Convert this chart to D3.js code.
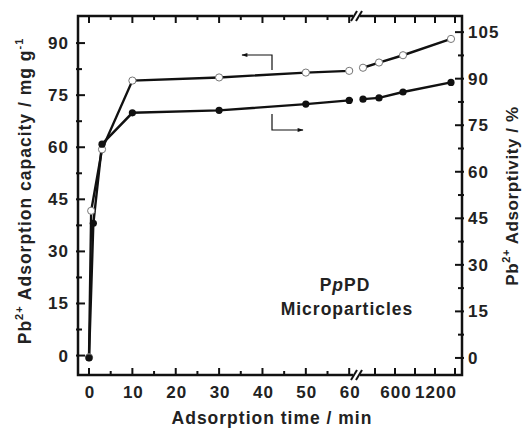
<!DOCTYPE html>
<html>
<head>
<meta charset="utf-8">
<script src="https://cdn.jsdelivr.net/npm/d3@7"></script>
<style>
  body { margin: 0; background: #fff; }
  text { font-family: "Liberation Sans", Arial, sans-serif; font-weight: bold; fill: #222; }
</style>
</head>
<body>
<div id="container"></div>
<script>
/* DATA */
const capTimes = [0, 0.5, 3, 10, 30, 50, 60, 120, 360, 720, 1440];
const capacity = [-0.5, 41.7, 59.4, 79.2, 80.1, 81.5, 82.0, 82.9, 84.4, 86.5, 91.2];   // mg/g, left axis
const advTimes = [0, 1, 3, 10, 30, 50, 60, 120, 360, 720, 1440];
const adsorptivity = [0, 43.4, 68.9, 79.0, 79.8, 81.8, 83.0, 83.4, 83.8, 85.7, 88.8]; // %, right axis

const xTicks1 = [0, 10, 20, 30, 40, 50, 60];
const xMinor1 = [5, 15, 25, 35, 45, 55];
const xTicks2 = [300, 600, 900, 1200, 1500];
const xLabels2 = [600, 1200];
const yLeftTicks = [0, 15, 30, 45, 60, 75, 90];
const yRightTicks = [0, 15, 30, 45, 60, 75, 90, 105];

/* CONSTANTS AND GLOBALS */
const width = 523, height = 428,
  margin = { top: 16, bottom: 53, left: 78, right: 61 };
const plotL = margin.left, plotR = width - margin.right,
  plotT = margin.top, plotB = height - margin.bottom;
const breakX = 357;

const svg = d3.select("#container").append("svg")
  .attr("width", width).attr("height", height);

// broken x axis: two linear pieces
const x1 = d3.scaleLinear().domain([-2.54, 61.8]).range([plotL, breakX]);
const x2 = d3.scaleLinear().domain([30, 1605]).range([breakX, plotR]);
const x = t => t <= 61.8 ? x1(t) : x2(t);

const yL = d3.scaleLinear().domain([-5.6, 97.8]).range([plotB, plotT]);
const yR = d3.scaleLinear().domain([-5.5, 110.2]).range([plotB, plotT]);

// lines
const line = d3.line().x(d => x(d[0])).y(d => d[1]);
const capPts = capTimes.map((t, i) => [t, yL(capacity[i])]);
const advPts = advTimes.map((t, i) => [t, yR(adsorptivity[i])]);

svg.append("path").attr("d", line(capPts))
  .attr("fill", "none").attr("stroke", "#111").attr("stroke-width", 2.4);
svg.append("path").attr("d", line(advPts))
  .attr("fill", "none").attr("stroke", "#111").attr("stroke-width", 2.4);

// gap in the lines at the axis break
svg.append("rect").attr("x", breakX - 4).attr("y", plotT + 2)
  .attr("width", 7).attr("height", plotB - plotT - 4).attr("fill", "#fff");

// points (open first, filled drawn on top)
svg.selectAll("circle.cap").data(capPts).join("circle")
  .attr("class", "cap").attr("cx", d => x(d[0])).attr("cy", d => d[1])
  .attr("r", 3.6).attr("fill", "#fff").attr("stroke", "#777").attr("stroke-width", 1);
svg.selectAll("circle.adv").data(advPts).join("circle")
  .attr("class", "adv").attr("cx", d => x(d[0])).attr("cy", d => d[1])
  .attr("r", 3.6).attr("fill", "#111");

// frame
svg.append("rect").attr("x", plotL).attr("y", plotT)
  .attr("width", plotR - plotL).attr("height", plotB - plotT)
  .attr("fill", "none").attr("stroke", "#111").attr("stroke-width", 2.5);

// ticks (inward)
const tickG = svg.append("g").attr("stroke", "#111").attr("stroke-width", 2);
function vTick(px, len) {
  tickG.append("line").attr("x1", px).attr("x2", px).attr("y1", plotB).attr("y2", plotB - len);
  tickG.append("line").attr("x1", px).attr("x2", px).attr("y1", plotT).attr("y2", plotT + len);
}
xTicks1.forEach(t => vTick(x1(t), 7));
xMinor1.forEach(t => vTick(x1(t), 4));
xTicks2.forEach(t => vTick(x2(t), 7));

function hTick(scale, v, len, side) {
  const x0 = side === "left" ? plotL : plotR;
  const dir = side === "left" ? 1 : -1;
  tickG.append("line").attr("x1", x0 - dir * 2).attr("x2", x0 + dir * len)
    .attr("y1", scale(v)).attr("y2", scale(v));
}
yLeftTicks.forEach(v => hTick(yL, v, 7, "left"));
d3.range(7.5, 90, 15).forEach(v => hTick(yL, v, 4, "left"));
yRightTicks.forEach(v => hTick(yR, v, 7, "right"));
d3.range(7.5, 105, 15).forEach(v => hTick(yR, v, 4, "right"));

// axis break marks
[plotT, plotB].forEach(yy => {
  svg.append("rect").attr("x", breakX - 4).attr("y", yy - 3).attr("width", 7).attr("height", 6).attr("fill", "#fff");
  [-3, 2].forEach(dx => {
    svg.append("line").attr("x1", breakX + dx - 3).attr("y1", yy + 5)
      .attr("x2", breakX + dx + 3).attr("y2", yy - 5)
      .attr("stroke", "#111").attr("stroke-width", 2);
  });
});

// tick labels
const fs = 17, ls = 1;
svg.selectAll("text.xl1").data(xTicks1).join("text")
  .attr("x", d => x1(d) + 1).attr("y", plotB + 23).attr("text-anchor", "middle")
  .attr("font-size", fs).attr("letter-spacing", ls).text(d => d);
svg.selectAll("text.xl2").data(xLabels2).join("text")
  .attr("x", d => x2(d) + 1).attr("y", plotB + 23).attr("text-anchor", "middle")
  .attr("font-size", fs).attr("letter-spacing", ls).text(d => d);
svg.selectAll("text.yl").data(yLeftTicks).join("text")
  .attr("x", plotL - 9).attr("y", d => yL(d) + 6).attr("text-anchor", "end")
  .attr("font-size", fs).attr("letter-spacing", ls).text(d => d);
svg.selectAll("text.yr").data(yRightTicks).join("text")
  .attr("x", plotR + 6).attr("y", d => yR(d) + 6).attr("text-anchor", "start")
  .attr("font-size", fs).attr("letter-spacing", ls).text(d => d);

// axis titles
svg.append("text").attr("x", 272).attr("y", 424)
  .attr("text-anchor", "middle").attr("font-size", 17.5).attr("letter-spacing", ls)
  .text("Adsorption time / min");

const lt = svg.append("text").attr("transform", `translate(31, 191) rotate(-90)`)
  .attr("text-anchor", "middle").attr("font-size", 17.5).attr("letter-spacing", ls);
lt.append("tspan").text("Pb");
lt.append("tspan").attr("dy", -8).attr("font-size", 11).text("2+");
lt.append("tspan").attr("dy", 8).text(" Adsorption capacity / mg g");
lt.append("tspan").attr("dy", -8).attr("font-size", 11).text("-1");

const rt = svg.append("text").attr("transform", `translate(518, 196) rotate(-90)`)
  .attr("text-anchor", "middle").attr("font-size", 17).attr("letter-spacing", 0.6);
rt.append("tspan").text("Pb");
rt.append("tspan").attr("dy", -8).attr("font-size", 11).text("2+");
rt.append("tspan").attr("dy", 8).text(" Adsorptivity / %");

// sample label
const lab = svg.append("text").attr("x", 345).attr("y", 291)
  .attr("text-anchor", "middle").attr("font-size", 17.5).attr("letter-spacing", ls);
lab.append("tspan").text("P");
lab.append("tspan").attr("font-style", "italic").text("p");
lab.append("tspan").text("PD");
svg.append("text").attr("x", 347).attr("y", 315)
  .attr("text-anchor", "middle").attr("font-size", 17.5).attr("letter-spacing", ls)
  .text("Microparticles");

// series pointers
svg.append("defs").append("marker").attr("id", "arr")
  .attr("viewBox", "0 0 10 10").attr("refX", 9).attr("refY", 5)
  .attr("markerWidth", 7).attr("markerHeight", 5).attr("orient", "auto")
  .append("path").attr("d", "M0,1.5 L10,5 L0,8.5 Z").attr("fill", "#111");
const ptr = d3.line();
svg.append("path").attr("d", ptr([[272, 70], [272, 55], [242, 55]]))
  .attr("fill", "none").attr("stroke", "#111").attr("stroke-width", 1.2).attr("marker-end", "url(#arr)");
svg.append("path").attr("d", ptr([[272, 114], [272, 130], [303, 130]]))
  .attr("fill", "none").attr("stroke", "#111").attr("stroke-width", 1.2).attr("marker-end", "url(#arr)");
</script>
</body>
</html>
